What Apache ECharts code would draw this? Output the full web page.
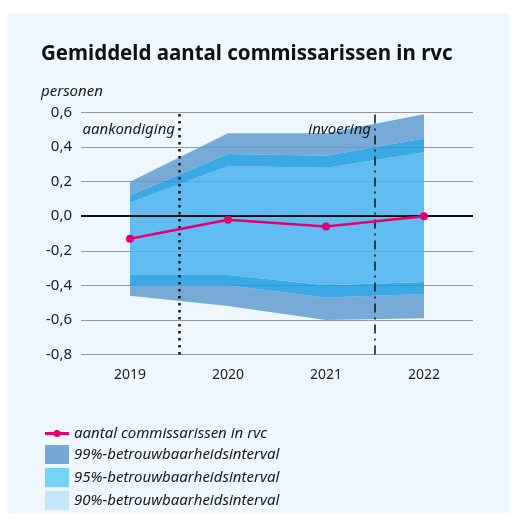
<!DOCTYPE html>
<html>
<head>
<meta charset="utf-8">
<script src="https://cdn.jsdelivr.net/npm/echarts@6/dist/echarts.min.js"></script>
<style>
  html, body { margin: 0; padding: 0; background: #fff; }
  #chart { width: 516px; height: 520px; }
</style>
</head>
<body>
<div id="chart"></div>
<script>
  // jaren en waarden
  var yearLabels = ['2019', '2020', '2021', '2022'];
  var commissarissen = [-0.13, -0.02, -0.06, 0.00];
  var upper99 = [0.20, 0.48, 0.48, 0.59];
  var upper95 = [0.12, 0.36, 0.35, 0.45];
  var upper90 = [0.08, 0.29, 0.28, 0.37];
  var lower90 = [-0.34, -0.34, -0.40, -0.38];
  var lower95 = [-0.40, -0.40, -0.47, -0.45];
  var lower99 = [-0.46, -0.52, -0.60, -0.59];
  var markers = [2019.5, 2021.5];
  var markerLabels = ['aankondiging', 'invoering'];

  var name99 = '99%-betrouwbaarheidsinterval';
  var name95 = '95%-betrouwbaarheidsinterval';
  var name90 = '90%-betrouwbaarheidsinterval';
  var nameLine = 'aantal commissarissen in rvc';

  var font = 'Noto Sans';
  var pink = '#e4006f';
  var c99 = 'rgba(99,156,209,0.85)';
  var c95 = 'rgba(26,154,221,0.85)';
  var c90 = 'rgba(71,178,238,0.85)';

  // band tussen twee reeksen als gestapelde laag
  function segment(name, top, bottom, color) {
    return {
      type: 'line',
      name: name,
      stack: 'ci',
      stackStrategy: 'all',
      symbol: 'none',
      silent: true,
      z: 2,
      lineStyle: { width: 0, opacity: 0 },
      areaStyle: { color: color, opacity: 1 },
      data: top.map(function (v, i) { return +(v - bottom[i]).toFixed(3); })
    };
  }

  var chart = echarts.init(document.getElementById('chart'));
  chart.setOption({
    animation: false,
    textStyle: { fontFamily: font },
    title: [{
      text: 'Gemiddeld aantal commissarissen in rvc',
      left: 36,
      top: 39,
      textStyle: { fontSize: 20.5, fontWeight: 'bold', color: '#111', fontFamily: font }
    }, {
      text: 'personen',
      left: 36,
      top: 79,
      textStyle: { fontSize: 15, fontWeight: 'normal', fontStyle: 'italic', color: '#222', fontFamily: font }
    }],
    legend: {
      orient: 'vertical',
      left: 40,
      top: 421,
      itemWidth: 24,
      itemHeight: 19,
      itemGap: 4,
      selectedMode: false,
      textStyle: { fontSize: 15, fontStyle: 'italic', color: '#1a1a1a', fontFamily: font },
      data: [
        {
          name: nameLine,
          icon: 'path://M0,2.5 L24,2.5 L24,5.5 L0,5.5 Z M15.5,4 A3.5,3.5 0 1 1 8.5,4 A3.5,3.5 0 1 1 15.5,4 Z',
          itemStyle: { color: pink }
        },
        { name: name99, icon: 'rect', itemStyle: { color: '#76a7d6' } },
        { name: name95, icon: 'rect', itemStyle: { color: '#74d3f7' } },
        { name: name90, icon: 'rect', itemStyle: { color: '#c3e6fb' } }
      ]
    },
    grid: { left: 81, right: 43, top: 112.5, bottom: 165.5 },
    xAxis: [{
      type: 'category',
      data: yearLabels,
      boundaryGap: true,
      axisLine: { show: false },
      axisTick: { alignWithLabel: true, length: 7, lineStyle: { color: '#999' } },
      axisLabel: { fontSize: 14, color: '#222', margin: 14 }
    }, {
      type: 'value',
      min: 2018.5,
      max: 2022.5,
      show: false
    }],
    yAxis: {
      type: 'value',
      min: -0.8,
      max: 0.6,
      interval: 0.2,
      axisLine: { show: false },
      axisTick: { show: false },
      axisLabel: {
        fontSize: 15,
        color: '#222',
        margin: 9,
        formatter: function (v) { return v.toFixed(1).replace('.', ','); }
      },
      splitLine: { lineStyle: { color: '#999', width: 1 } }
    },
    series: [
      {
        type: 'line',
        stack: 'ci',
        stackStrategy: 'all',
        symbol: 'none',
        silent: true,
        z: 1,
        lineStyle: { width: 0, opacity: 0 },
        data: lower99,
        markLine: {
          silent: true,
          symbol: 'none',
          label: { show: false },
          lineStyle: { color: '#111', width: 2, type: 'solid' },
          data: [{ yAxis: 0 }]
        }
      },
      segment(name99, lower95, lower99, c99),
      segment(name95, lower90, lower95, c95),
      segment(name90, upper90, lower90, c90),
      segment(name95, upper95, upper90, c95),
      segment(name99, upper99, upper95, c99),
      {
        type: 'line',
        xAxisIndex: 1,
        symbol: 'none',
        silent: true,
        z: 4,
        lineStyle: { opacity: 0 },
        data: markers.map(function (m) { return [m, 0]; }),
        markLine: {
          silent: true,
          symbol: 'none',
          label: { show: false },
          data: [
            { xAxis: markers[0], lineStyle: { color: '#111', width: 2.5, type: [2.5, 4.5] } },
            { xAxis: markers[1], lineStyle: { color: '#111', width: 1.5, type: [9, 5, 2, 5] } }
          ]
        }
      },
      {
        type: 'line',
        name: nameLine,
        z: 5,
        symbol: 'circle',
        symbolSize: 8,
        color: pink,
        lineStyle: { color: pink, width: 2.5 },
        itemStyle: { color: pink },
        data: commissarissen
      }
    ]
  });

  // achtergrondvlak en teksten bij de verticale lijnen
  var yTop = chart.convertToPixel({ yAxisIndex: 0 }, 0.6);
  var graphics = [{
    type: 'rect',
    z: -10,
    shape: { x: 7, y: 14, width: 502, height: 499 },
    style: { fill: '#eef7fd' }
  }];
  markers.forEach(function (m, i) {
    var px = chart.convertToPixel({ xAxisIndex: 1 }, m);
    graphics.push({
      type: 'text',
      z: 10,
      x: px - 4,
      y: yTop + 17,
      style: {
        text: markerLabels[i],
        fill: '#1a1a1a',
        font: 'italic 15px "' + font + '"',
        align: 'right',
        verticalAlign: 'middle'
      }
    });
  });
  chart.setOption({ graphic: graphics });
</script>
</body>
</html>
